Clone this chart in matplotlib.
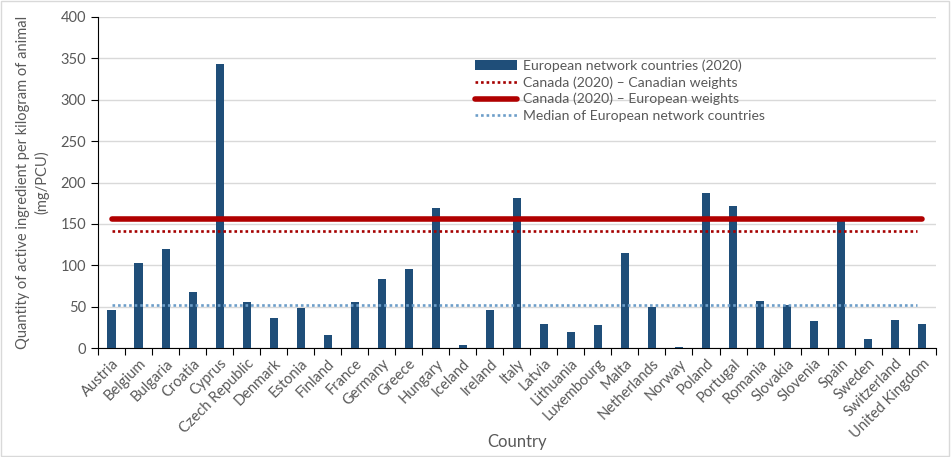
import matplotlib.pyplot as plt
import numpy as np

countries = ["Austria", "Belgium", "Bulgaria", "Croatia", "Cyprus", "Czech Republic",
             "Denmark", "Estonia", "Finland", "France", "Germany", "Greece", "Hungary",
             "Iceland", "Ireland", "Italy", "Latvia", "Lithuania", "Luxembourg", "Malta",
             "Netherlands", "Norway", "Poland", "Portugal", "Romania", "Slovakia",
             "Slovenia", "Spain", "Sweden", "Switzerland", "United Kingdom"]
values = [46.3, 103, 120, 68, 343.6, 56, 36.7, 48.7, 16, 56, 83.8, 95.9, 169.6,
          4, 46.3, 181.7, 29.4, 19.7, 28.2, 115.2, 50, 1.6, 187.7, 172, 57.2, 51.6,
          33, 153.9, 11.3, 34.2, 29.4]
canada_canadian = 141.4
canada_european = 155.5
median_europe = 52

plt.rcParams['font.family'] = ['Lato', 'DejaVu Sans']
text_col = '#595959'

fig = plt.figure(figsize=(9.51, 4.57), dpi=100)
ax = fig.add_axes([98 / 951, 1 - 348 / 457, (935.7 - 98) / 951, (348 - 17) / 457])

x = np.arange(len(countries))
bars = ax.bar(x, values, width=0.3, color='#1f4e79', zorder=3,
              label='European network countries (2020)')
l1, = ax.plot([x[0], x[-1] - 0.2], [canada_canadian] * 2, color='#a50000',
              linestyle=(0, (1, 1.1)), linewidth=1.9, zorder=4,
              label='Canada (2020) \u2013 Canadian weights')
l2, = ax.plot([x[0], x[-1]], [canada_european] * 2, color='#b00000', linewidth=4,
              solid_capstyle='round', zorder=4,
              label='Canada (2020) \u2013 European weights')
l3, = ax.plot([x[0], x[-1] - 0.2], [median_europe] * 2, color='#6d9ec9',
              linestyle=(0, (1, 1.1)), linewidth=1.9, zorder=4,
              label='Median of European network countries')

ax.set_xlim(-0.5, len(countries) - 0.5)
ax.set_ylim(0, 400)
ax.set_yticks(np.arange(0, 401, 50))
ax.yaxis.grid(True, color='#d9d9d9', linewidth=1, zorder=0)
ax.set_axisbelow(True)

ax.set_xticks(np.arange(-0.5, len(countries), 1))
ax.set_xticklabels([])
ax.set_xticks(x, minor=True)
ax.set_xticklabels(countries, minor=True, rotation=45, ha='right', rotation_mode='anchor',
                   fontsize=10.5, color=text_col)
ax.tick_params(axis='x', which='minor', length=0, pad=6)
ax.tick_params(axis='x', which='major', length=5, color='black', direction='out')
ax.tick_params(axis='y', length=5, labelsize=10.5, labelcolor=text_col, direction='out')

for s in ['top', 'right']:
    ax.spines[s].set_visible(False)
for s in ['left', 'bottom']:
    ax.spines[s].set_color('black')

ax.set_xlabel('Country', fontsize=12, color=text_col, labelpad=0)
ax.xaxis.set_label_coords(0.5, -0.26)
ax.set_ylabel('Quantity of active ingredient per kilogram of animal\n(mg/PCU)',
              fontsize=10.5, color=text_col, labelpad=8, linespacing=1.35)

ax.legend([bars, l1, l2, l3], [bars.get_label(), l1.get_label(), l2.get_label(), l3.get_label()],
          loc='upper left', bbox_to_anchor=(0.45, 0.872), frameon=False,
          fontsize=10.1, labelcolor=text_col, handlelength=3.0, handletextpad=0.43,
          labelspacing=0.3, borderaxespad=0, borderpad=0)

fig.patches.append(plt.Rectangle((0.001, 0.002), 0.997, 0.995, transform=fig.transFigure,
                                 fill=False, edgecolor='#d9d9d9', linewidth=1))

fig.savefig('out.png', dpi=100)
